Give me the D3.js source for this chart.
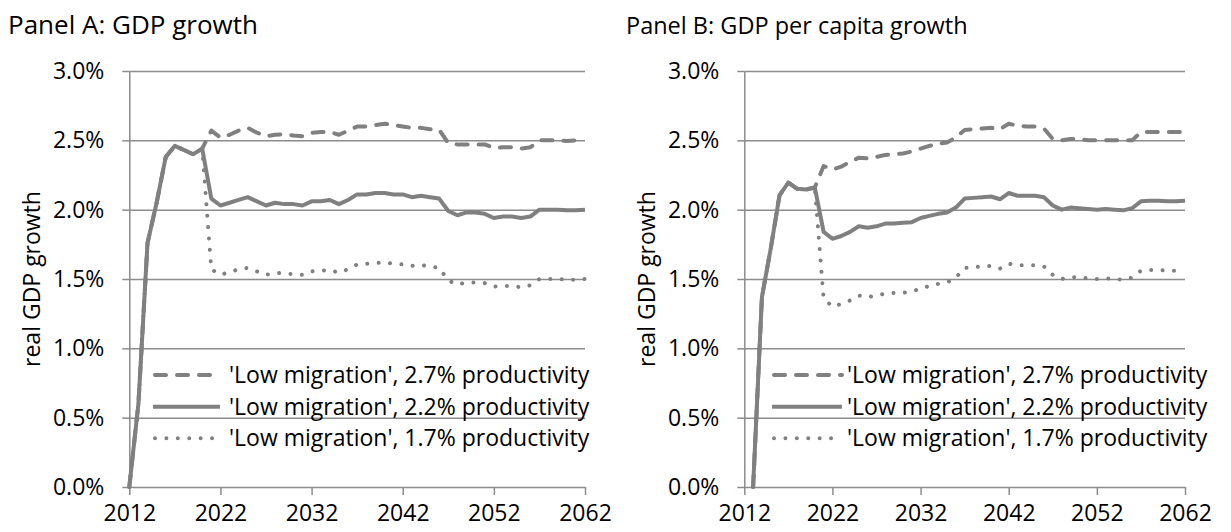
<!DOCTYPE html>
<html>
<head>
<meta charset="utf-8">
<script src="https://cdn.jsdelivr.net/npm/d3@7"></script>
<style>
  html, body { margin: 0; padding: 0; background: #fff; }
  svg { display: block; font-family: "Open Sans", "Noto Sans", sans-serif; }
</style>
</head>
<body>
<svg id="chart" width="1231" height="532"></svg>
<script>
// ---------------- data ----------------
const years = d3.range(2012, 2063);
const xTickYears = [2012, 2022, 2032, 2042, 2052, 2062];
const yTicks = [0, 0.5, 1.0, 1.5, 2.0, 2.5, 3.0];

const panelTitles = ["Panel A: GDP growth", "Panel B: GDP per capita growth"];
const yAxisTitle = "real GDP growth";
const seriesNames = [
  "'Low migration', 2.7% productivity",
  "'Low migration', 2.2% productivity",
  "'Low migration', 1.7% productivity"
];

// Panel A (GDP growth, %), 2012..2062
const gdpHigh = [0, 0.6, 1.76, 2.05, 2.38, 2.46, 2.43, 2.40, 2.44,
  2.57, 2.52, 2.54, 2.57, 2.59, 2.555, 2.53, 2.54, 2.545, 2.535, 2.53,
  2.555, 2.56, 2.56, 2.54, 2.57, 2.60, 2.60, 2.61, 2.62,
  2.61, 2.60, 2.59, 2.59, 2.58, 2.575, 2.48, 2.47, 2.47, 2.47, 2.47,
  2.445, 2.45, 2.45, 2.44, 2.45, 2.50, 2.50, 2.50, 2.495, 2.50, 2.50];
const gdpMid = [0, 0.6, 1.76, 2.05, 2.38, 2.46, 2.43, 2.40, 2.44,
  2.08, 2.03, 2.05, 2.07, 2.09, 2.06, 2.03, 2.05, 2.04, 2.04, 2.03,
  2.06, 2.06, 2.07, 2.04, 2.07, 2.11, 2.11, 2.12, 2.12,
  2.11, 2.11, 2.09, 2.10, 2.09, 2.08, 1.99, 1.96, 1.98, 1.98, 1.97,
  1.94, 1.95, 1.95, 1.94, 1.95, 2.00, 2.00, 2.00, 1.995, 1.995, 2.00];
const gdpLow = [0, 0.6, 1.76, 2.05, 2.38, 2.46, 2.43, 2.40, 2.44,
  1.57, 1.53, 1.55, 1.57, 1.58, 1.555, 1.53, 1.545, 1.54, 1.535, 1.53,
  1.555, 1.56, 1.565, 1.545, 1.57, 1.605, 1.61, 1.615, 1.62,
  1.61, 1.605, 1.595, 1.60, 1.59, 1.58, 1.49, 1.46, 1.475, 1.475, 1.47,
  1.445, 1.45, 1.45, 1.44, 1.455, 1.50, 1.50, 1.50, 1.495, 1.495, 1.50];

// Panel B (GDP per capita growth, %), 2012..2062 (no value for 2012)
const pcHigh = [null, 0, 1.37, 1.72, 2.105, 2.195, 2.15, 2.145, 2.16,
  2.315, 2.29, 2.31, 2.345, 2.375, 2.37, 2.38, 2.395, 2.40, 2.405, 2.42,
  2.44, 2.46, 2.475, 2.485, 2.52, 2.575, 2.58, 2.585, 2.59,
  2.58, 2.62, 2.605, 2.60, 2.60, 2.585, 2.51, 2.50, 2.51, 2.51, 2.50,
  2.50, 2.50, 2.50, 2.50, 2.50, 2.56, 2.56, 2.56, 2.56, 2.56, 2.56];
const pcMid = [null, 0, 1.37, 1.72, 2.105, 2.195, 2.15, 2.145, 2.16,
  1.84, 1.79, 1.81, 1.84, 1.88, 1.87, 1.88, 1.90, 1.90, 1.905, 1.91,
  1.94, 1.955, 1.97, 1.98, 2.015, 2.08, 2.085, 2.09, 2.095,
  2.075, 2.12, 2.10, 2.10, 2.10, 2.09, 2.03, 2.00, 2.015, 2.01, 2.005,
  2.00, 2.005, 2.00, 1.995, 2.01, 2.06, 2.065, 2.065, 2.06, 2.06, 2.065];
const pcLow = [null, 0, 1.37, 1.72, 2.105, 2.195, 2.15, 2.145, 2.16,
  1.36, 1.30, 1.32, 1.345, 1.38, 1.37, 1.38, 1.395, 1.40, 1.40, 1.41,
  1.43, 1.45, 1.465, 1.475, 1.51, 1.58, 1.585, 1.59, 1.595,
  1.575, 1.61, 1.60, 1.60, 1.60, 1.59, 1.53, 1.50, 1.515, 1.51, 1.505,
  1.50, 1.505, 1.50, 1.495, 1.51, 1.56, 1.565, 1.565, 1.56, 1.56, 1.565];

// ---------------- drawing ----------------
const svg = d3.select("#chart");
const lineColor = "#808080";
const axisColor = "#8c8c8c";
const styles = [
  { dash: "11,11" },        // dashed
  { dash: null },           // solid
  { dash: "0.01,11.4" }     // dotted
];

const panels = [
  { left: 129.3, right: 585, titleX: 8, titleSize: 26, yTitleX: 40,
    legLineX0: 153, legLineX1: 220, legTextX: 229,
    series: [gdpHigh, gdpMid, gdpLow], title: panelTitles[0] },
  { left: 744.3, right: 1185, titleX: 626, titleSize: 23.5, yTitleX: 655,
    legLineX0: 772, legLineX1: 842, legTextX: 847,
    series: [pcHigh, pcMid, pcLow], title: panelTitles[1] }
];
const plotTop = 71, plotBottom = 487;
const tickFont = 23;

panels.forEach(p => {
  const x = d3.scaleLinear().domain([2012, 2062]).range([p.left, p.right]);
  const y = d3.scaleLinear().domain([0, 3]).range([plotBottom, plotTop]);
  const g = svg.append("g");

  // title
  g.append("text").attr("x", p.titleX).attr("y", 34)
    .attr("font-size", p.titleSize).attr("fill", "#000").text(p.title);

  // gridlines
  const grid = g.append("g").attr("transform", `translate(${p.left},0)`)
    .call(d3.axisLeft(y).tickValues(yTicks.filter(v => v > 0))
      .tickSize(-(p.right - p.left)).tickFormat(""));
  grid.select(".domain").remove();
  grid.selectAll("line").attr("stroke", axisColor).attr("stroke-width", 1.5);

  // y axis
  const ya = g.append("g").attr("transform", `translate(${p.left},0)`)
    .call(d3.axisLeft(y).tickValues(yTicks).tickSize(7).tickSizeOuter(0)
      .tickPadding(18).tickFormat(d => d3.format(".1f")(d) + "%"));
  ya.select(".domain").attr("stroke", axisColor).attr("stroke-width", 1.5);
  ya.selectAll("line").attr("stroke", axisColor).attr("stroke-width", 1.5);
  ya.selectAll("text").attr("font-size", tickFont).attr("fill", "#000")
    .attr("font-family", "Open Sans");

  // x axis
  const xa = g.append("g").attr("transform", `translate(0,${plotBottom})`)
    .call(d3.axisBottom(x).tickValues(xTickYears).tickSize(8).tickSizeOuter(0)
      .tickPadding(10).tickFormat(d3.format("d")));
  xa.select(".domain").attr("stroke", axisColor).attr("stroke-width", 1.5);
  xa.selectAll("line").attr("stroke", axisColor).attr("stroke-width", 1.5);
  xa.selectAll("text").attr("font-size", tickFont).attr("fill", "#000")
    .attr("font-family", "Open Sans");

  // y axis title
  g.append("text")
    .attr("transform", `translate(${p.yTitleX},${(plotTop + plotBottom) / 2}) rotate(-90)`)
    .attr("text-anchor", "middle").attr("font-size", 23).attr("fill", "#000")
    .text(yAxisTitle);

  // lines: dotted, dashed, then solid on top
  const line = d3.line().defined(d => d[1] !== null)
    .x(d => x(d[0])).y(d => y(d[1]));
  [2, 0, 1].forEach(i => {
    const data = years.map((yr, k) => [yr, p.series[i][k]]);
    const path = g.append("path").datum(data).attr("d", line)
      .attr("fill", "none").attr("stroke", lineColor).attr("stroke-width", 4)
      .attr("stroke-linejoin", "round")
      .attr("stroke-linecap", styles[i].dash ? "round" : "butt");
    if (styles[i].dash) path.attr("stroke-dasharray", styles[i].dash);
  });

  // legend
  const rowY = [375, 406.7, 438.3];
  seriesNames.forEach((name, i) => {
    const l = g.append("line")
      .attr("x1", p.legLineX0 + (styles[i].dash ? 2 : 0)).attr("x2", p.legLineX1)
      .attr("y1", rowY[i]).attr("y2", rowY[i])
      .attr("stroke", lineColor).attr("stroke-width", 4)
      .attr("stroke-linecap", styles[i].dash ? "round" : "butt");
    if (styles[i].dash) l.attr("stroke-dasharray", styles[i].dash);
    g.append("text").attr("x", p.legTextX).attr("y", rowY[i] + 8)
      .attr("font-size", 23).attr("fill", "#000").text(name);
  });
});
</script>
</body>
</html>
